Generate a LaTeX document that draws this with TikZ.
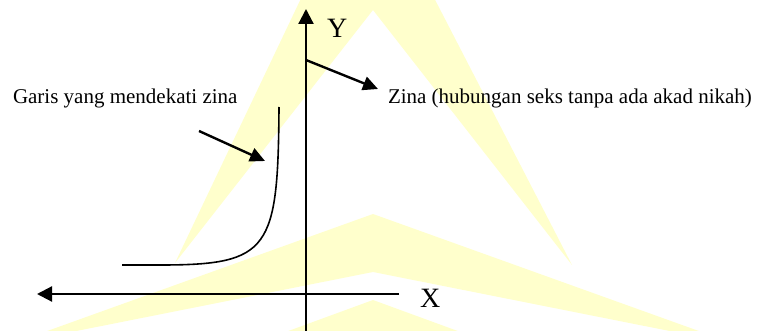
\documentclass[tikz,border=0pt]{standalone}
\usepackage{fontspec}
\setmainfont{Liberation Serif}
\usetikzlibrary{arrows.meta}
\definecolor{wm}{RGB}{255,255,204}
\tikzset{
  axisline/.style={line width=2.2pt,-{Triangle[length=15pt,width=15pt]}},
  pointer/.style={line width=2.4pt,-{Triangle[length=15pt,width=14pt]}},
  curveline/.style={line width=1.6pt},
  lbl/.style={inner sep=0pt,outer sep=0pt,font=\fontsize{21}{24}\selectfont},
  axlbl/.style={inner sep=0pt,outer sep=0pt,font=\fontsize{28}{32}\selectfont},
}
\begin{document}
\begin{tikzpicture}[x=1pt,y=-1pt]
\useasboundingbox (0,0) rectangle (759,331);
% watermark
\begin{scope}
\clip (0,0) rectangle (759,331);
\fill[wm] (175,263) -- (305,-10) -- (430,-10) -- (572,265) -- (373,10) -- cycle;
\fill[wm] (11,344) -- (373,214) -- (735,344) -- (373,272) -- cycle;
\fill[wm] (373,300) -- (250,345) -- (496,345) -- cycle;
\end{scope}
% coordinates
\coordinate (ybot) at (306,331);
\coordinate (ytop) at (306,9);
\coordinate (xright) at (399,294);
\coordinate (xleft) at (37,294);
\coordinate (p1s) at (306,60);
\coordinate (p1e) at (378,89);
\coordinate (p2s) at (199,131);
\coordinate (p2e) at (265,161);
\coordinate (cs) at (279,107);
\coordinate (ce) at (122,265);
% axes
\draw[axisline] (ybot) -- (ytop);
\draw[axisline] (xright) -- (xleft);
% labels
\node[axlbl,anchor=base west] (ylab) at (327,38) {Y};
\node[axlbl,anchor=base west] (xlab) at (420,307) {X};
\node[lbl,anchor=base west] (garis) at (13,104) {Garis yang mendekati zina};
\node[lbl,anchor=base west] (zina) at (388,104) {Zina (hubungan seks tanpa ada akad nikah)};
% pointers
\draw[pointer] (p1s) -- (p1e);
\draw[pointer] (p2s) -- (p2e);
% curve
\draw[curveline] (cs) .. controls (278,250) and (270,265) .. (160,265) -- (ce);
\end{tikzpicture}
\end{document}
